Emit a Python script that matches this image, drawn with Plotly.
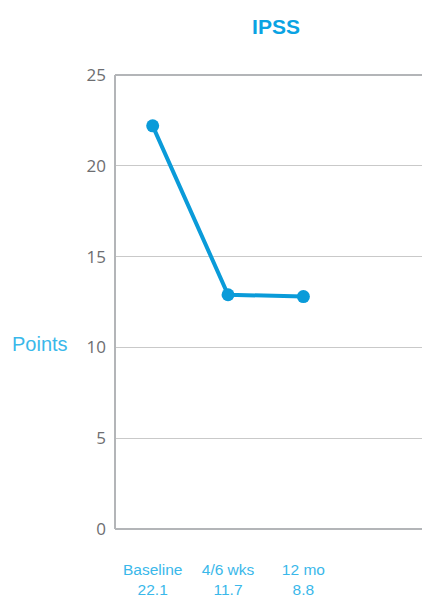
import plotly.graph_objects as go

categories = ["Baseline", "4/6 wks", "12 mo"]
bottom_values = ["22.1", "11.7", "8.8"]
ipss_points = [22.2, 12.9, 12.8]
y_ticks = [0, 5, 10, 15, 20, 25]

LINE_BLUE = "#0a9bd9"
LABEL_BLUE = "#3ab8ea"
GRAY_TEXT = "#6d6e71"

x_pos = list(range(len(categories)))
tick_text = [f"{c}<br>{v}" for c, v in zip(categories, bottom_values)]

# page body has an 8px margin; compensate in layout margins
W, H = 430, 597
L, T, R, B = 107, 67, 8, 76
plot_w = W - L - R
plot_h = H - T - B

fig = go.Figure()
fig.add_trace(go.Scatter(
    x=x_pos, y=ipss_points, mode="lines+markers",
    line=dict(color=LINE_BLUE, width=4),
    marker=dict(color=LINE_BLUE, size=13),
    showlegend=False, hoverinfo="skip",
))

fig.update_layout(
    width=W, height=H,
    margin=dict(l=L, r=R, t=T, b=B, autoexpand=False),
    paper_bgcolor="white", plot_bgcolor="white",
    font=dict(family="Open Sans, Liberation Sans, sans-serif"),
    title=dict(text="<b>IPSS</b>", x=268 / W, xanchor="center", y=1 - 19 / H, yanchor="middle",
               font=dict(size=21, color="#0aa3e3", family="Liberation Sans, Arial, sans-serif")),
    xaxis=dict(
        range=[-0.5, 3.68], tickvals=x_pos, ticktext=tick_text,
        showgrid=False, zeroline=False, showline=False, ticks="",
        tickfont=dict(size=15.5, color=LABEL_BLUE, family="Liberation Sans, Arial, sans-serif"),
        ticklabelstandoff=29, automargin=False,
    ),
    yaxis=dict(
        range=[0, 25], tickvals=y_ticks,
        showgrid=True, gridcolor="#c9c9c9", gridwidth=1,
        zeroline=False, showline=False, ticks="",
        tickfont=dict(size=17, color=GRAY_TEXT),
        ticklabelstandoff=8, automargin=False,
    ),
    shapes=[
        dict(type="line", xref="paper", yref="paper", x0=0, x1=0, y0=0, y1=1,
             line=dict(color="#b3b5b8", width=2)),
        dict(type="line", xref="paper", yref="paper", x0=0, x1=1, y0=0, y1=0,
             line=dict(color="#b3b5b8", width=2)),
        dict(type="line", xref="paper", yref="paper", x0=0, x1=1, y0=1, y1=1,
             line=dict(color="#b3b5b8", width=2)),
    ],
    annotations=[
        dict(text="Points", xref="paper", yref="paper", x=(2 - L) / plot_w, xanchor="left",
             y=(521 - 336) / plot_h, yanchor="middle", showarrow=False,
             font=dict(size=20, color=LABEL_BLUE, family="Liberation Sans, Arial, sans-serif")),
    ],
)

fig.write_html("out.html")
